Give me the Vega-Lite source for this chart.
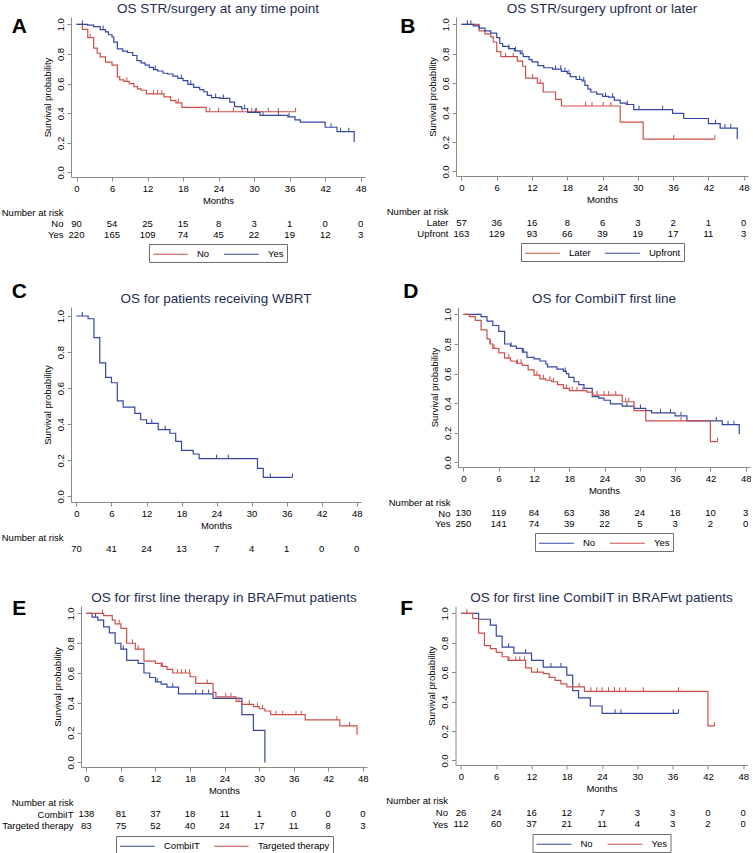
{
"$schema": "https://vega.github.io/schema/vega-lite/v6.json",
"background": "white",
"padding": {"left": 1, "top": 1, "right": 0, "bottom": 0},
"spacing": 35,
"columns": 1,
"align": "none",
"resolve": {"scale": {"color": "independent"}, "legend": {"color": "independent"}},
"datasets": {
"kmA": [
{"t":0,"s":1,"g":"No"},{"t":1,"s":0.966,"g":"No"},{"t":1.9,"s":0.91,"g":"No"},{"t":2.9,"s":0.84,"g":"No"},{"t":3.5,"s":0.805,"g":"No"},{"t":4,"s":0.78,"g":"No"},{"t":4.9,"s":0.745,"g":"No"},{"t":6,"s":0.725,"g":"No"},{"t":6.9,"s":0.645,"g":"No"},{"t":7.3,"s":0.625,"g":"No"},{"t":8,"s":0.615,"g":"No"},{"t":8.9,"s":0.6,"g":"No"},{"t":9.7,"s":0.58,"g":"No"},{"t":10.3,"s":0.565,"g":"No"},{"t":10.9,"s":0.555,"g":"No"},{"t":11.8,"s":0.53,"g":"No"},{"t":14.8,"s":0.51,"g":"No"},{"t":15.9,"s":0.485,"g":"No"},{"t":16.8,"s":0.47,"g":"No"},{"t":17.8,"s":0.44,"g":"No"},{"t":21.9,"s":0.41,"g":"No"},{"t":37,"s":0.41,"g":"No"},
{"t":0,"s":1,"g":"Yes"},{"t":1.9,"s":0.995,"g":"Yes"},{"t":2.9,"s":0.985,"g":"Yes"},{"t":4,"s":0.965,"g":"Yes"},{"t":4.9,"s":0.95,"g":"Yes"},{"t":5.4,"s":0.93,"g":"Yes"},{"t":6,"s":0.915,"g":"Yes"},{"t":6.3,"s":0.88,"g":"Yes"},{"t":6.9,"s":0.835,"g":"Yes"},{"t":7.8,"s":0.82,"g":"Yes"},{"t":8.6,"s":0.81,"g":"Yes"},{"t":9.5,"s":0.79,"g":"Yes"},{"t":10.2,"s":0.755,"g":"Yes"},{"t":10.9,"s":0.74,"g":"Yes"},{"t":11.6,"s":0.725,"g":"Yes"},{"t":12.3,"s":0.71,"g":"Yes"},{"t":13,"s":0.695,"g":"Yes"},{"t":13.7,"s":0.685,"g":"Yes"},{"t":14.6,"s":0.67,"g":"Yes"},{"t":15.4,"s":0.665,"g":"Yes"},{"t":16.3,"s":0.65,"g":"Yes"},{"t":17.1,"s":0.635,"g":"Yes"},{"t":18,"s":0.62,"g":"Yes"},{"t":18.8,"s":0.595,"g":"Yes"},{"t":19.8,"s":0.575,"g":"Yes"},{"t":20.8,"s":0.56,"g":"Yes"},{"t":21.5,"s":0.545,"g":"Yes"},{"t":22.1,"s":0.52,"g":"Yes"},{"t":22.8,"s":0.505,"g":"Yes"},{"t":24.2,"s":0.5,"g":"Yes"},{"t":25.9,"s":0.475,"g":"Yes"},{"t":26.7,"s":0.445,"g":"Yes"},{"t":27.9,"s":0.43,"g":"Yes"},{"t":28.9,"s":0.405,"g":"Yes"},{"t":31,"s":0.385,"g":"Yes"},{"t":35.7,"s":0.375,"g":"Yes"},{"t":36.9,"s":0.355,"g":"Yes"},{"t":37.8,"s":0.34,"g":"Yes"},{"t":42,"s":0.305,"g":"Yes"},{"t":44,"s":0.275,"g":"Yes"},{"t":46.9,"s":0.205,"g":"Yes"}
],
"cnA": [
{"t":2.3,"s":0.91,"g":"No"},{"t":8.5,"s":0.615,"g":"No"},{"t":13,"s":0.53,"g":"No"},{"t":13.7,"s":0.53,"g":"No"},{"t":14.4,"s":0.53,"g":"No"},{"t":17.2,"s":0.47,"g":"No"},{"t":22.5,"s":0.41,"g":"No"},{"t":24,"s":0.41,"g":"No"},{"t":26.5,"s":0.41,"g":"No"},{"t":28,"s":0.41,"g":"No"},{"t":29.6,"s":0.41,"g":"No"},{"t":30.4,"s":0.41,"g":"No"},{"t":32.4,"s":0.41,"g":"No"},{"t":34.1,"s":0.41,"g":"No"},{"t":37,"s":0.41,"g":"No"},
{"t":1,"s":1,"g":"Yes"},{"t":4.5,"s":0.965,"g":"Yes"},{"t":13.3,"s":0.695,"g":"Yes"},{"t":17.7,"s":0.635,"g":"Yes"},{"t":19.3,"s":0.595,"g":"Yes"},{"t":23.5,"s":0.505,"g":"Yes"},{"t":24.8,"s":0.5,"g":"Yes"},{"t":28.4,"s":0.43,"g":"Yes"},{"t":30.2,"s":0.405,"g":"Yes"},{"t":31.5,"s":0.385,"g":"Yes"},{"t":34.1,"s":0.385,"g":"Yes"},{"t":35.9,"s":0.375,"g":"Yes"},{"t":43,"s":0.305,"g":"Yes"},{"t":44.6,"s":0.275,"g":"Yes"},{"t":46,"s":0.275,"g":"Yes"}
],
"rkA": [
{"t":0,"n":90,"g":"No"},{"t":6,"n":54,"g":"No"},{"t":12,"n":25,"g":"No"},{"t":18,"n":15,"g":"No"},{"t":24,"n":8,"g":"No"},{"t":30,"n":3,"g":"No"},{"t":36,"n":1,"g":"No"},{"t":42,"n":0,"g":"No"},{"t":48,"n":0,"g":"No"},
{"t":0,"n":220,"g":"Yes"},{"t":6,"n":165,"g":"Yes"},{"t":12,"n":109,"g":"Yes"},{"t":18,"n":74,"g":"Yes"},{"t":24,"n":45,"g":"Yes"},{"t":30,"n":22,"g":"Yes"},{"t":36,"n":19,"g":"Yes"},{"t":42,"n":12,"g":"Yes"},{"t":48,"n":3,"g":"Yes"}
],
"kmB": [
{"t":0,"s":1,"g":"Later"},{"t":3,"s":0.955,"g":"Later"},{"t":4,"s":0.935,"g":"Later"},{"t":5,"s":0.915,"g":"Later"},{"t":5.4,"s":0.88,"g":"Later"},{"t":6,"s":0.815,"g":"Later"},{"t":6.7,"s":0.78,"g":"Later"},{"t":9.5,"s":0.75,"g":"Later"},{"t":10.4,"s":0.715,"g":"Later"},{"t":10.9,"s":0.635,"g":"Later"},{"t":12.9,"s":0.6,"g":"Later"},{"t":13.9,"s":0.54,"g":"Later"},{"t":16,"s":0.49,"g":"Later"},{"t":17,"s":0.445,"g":"Later"},{"t":27,"s":0.335,"g":"Later"},{"t":30.9,"s":0.22,"g":"Later"},{"t":43.1,"s":0.22,"g":"Later"},
{"t":0,"s":1,"g":"Upfront"},{"t":2,"s":0.99,"g":"Upfront"},{"t":3,"s":0.975,"g":"Upfront"},{"t":4,"s":0.955,"g":"Upfront"},{"t":5,"s":0.94,"g":"Upfront"},{"t":6,"s":0.91,"g":"Upfront"},{"t":6.5,"s":0.87,"g":"Upfront"},{"t":7,"s":0.85,"g":"Upfront"},{"t":8,"s":0.835,"g":"Upfront"},{"t":9,"s":0.82,"g":"Upfront"},{"t":10,"s":0.8,"g":"Upfront"},{"t":10.5,"s":0.78,"g":"Upfront"},{"t":11.5,"s":0.76,"g":"Upfront"},{"t":12,"s":0.745,"g":"Upfront"},{"t":13,"s":0.72,"g":"Upfront"},{"t":14,"s":0.705,"g":"Upfront"},{"t":15.5,"s":0.695,"g":"Upfront"},{"t":17,"s":0.68,"g":"Upfront"},{"t":18,"s":0.665,"g":"Upfront"},{"t":18.5,"s":0.645,"g":"Upfront"},{"t":19.5,"s":0.625,"g":"Upfront"},{"t":20.5,"s":0.615,"g":"Upfront"},{"t":21,"s":0.585,"g":"Upfront"},{"t":21.5,"s":0.56,"g":"Upfront"},{"t":22,"s":0.54,"g":"Upfront"},{"t":23,"s":0.525,"g":"Upfront"},{"t":24,"s":0.51,"g":"Upfront"},{"t":25,"s":0.505,"g":"Upfront"},{"t":26,"s":0.485,"g":"Upfront"},{"t":27,"s":0.465,"g":"Upfront"},{"t":28,"s":0.455,"g":"Upfront"},{"t":29.3,"s":0.42,"g":"Upfront"},{"t":35.9,"s":0.395,"g":"Upfront"},{"t":37.8,"s":0.36,"g":"Upfront"},{"t":42,"s":0.325,"g":"Upfront"},{"t":44,"s":0.295,"g":"Upfront"},{"t":46.9,"s":0.22,"g":"Upfront"}
],
"cnB": [
{"t":7.5,"s":0.78,"g":"Later"},{"t":8.8,"s":0.78,"g":"Later"},{"t":12.1,"s":0.635,"g":"Later"},{"t":13.4,"s":0.6,"g":"Later"},{"t":21.1,"s":0.445,"g":"Later"},{"t":22.2,"s":0.445,"g":"Later"},{"t":24.1,"s":0.445,"g":"Later"},{"t":25.4,"s":0.445,"g":"Later"},{"t":36.1,"s":0.22,"g":"Later"},{"t":43.1,"s":0.22,"g":"Later"},
{"t":1,"s":1,"g":"Upfront"},{"t":1.6,"s":1,"g":"Upfront"},{"t":8.1,"s":0.835,"g":"Upfront"},{"t":9.2,"s":0.82,"g":"Upfront"},{"t":10.3,"s":0.8,"g":"Upfront"},{"t":16,"s":0.695,"g":"Upfront"},{"t":16.9,"s":0.695,"g":"Upfront"},{"t":17.6,"s":0.68,"g":"Upfront"},{"t":18.3,"s":0.665,"g":"Upfront"},{"t":20.1,"s":0.625,"g":"Upfront"},{"t":20.8,"s":0.615,"g":"Upfront"},{"t":24.5,"s":0.51,"g":"Upfront"},{"t":25.7,"s":0.505,"g":"Upfront"},{"t":28.2,"s":0.455,"g":"Upfront"},{"t":30.2,"s":0.42,"g":"Upfront"},{"t":34.2,"s":0.42,"g":"Upfront"},{"t":43.2,"s":0.325,"g":"Upfront"},{"t":44.8,"s":0.295,"g":"Upfront"},{"t":45.8,"s":0.295,"g":"Upfront"}
],
"rkB": [
{"t":0,"n":57,"g":"Later"},{"t":6,"n":36,"g":"Later"},{"t":12,"n":16,"g":"Later"},{"t":18,"n":8,"g":"Later"},{"t":24,"n":6,"g":"Later"},{"t":30,"n":3,"g":"Later"},{"t":36,"n":2,"g":"Later"},{"t":42,"n":1,"g":"Later"},{"t":48,"n":0,"g":"Later"},
{"t":0,"n":163,"g":"Upfront"},{"t":6,"n":129,"g":"Upfront"},{"t":12,"n":93,"g":"Upfront"},{"t":18,"n":66,"g":"Upfront"},{"t":24,"n":39,"g":"Upfront"},{"t":30,"n":19,"g":"Upfront"},{"t":36,"n":17,"g":"Upfront"},{"t":42,"n":11,"g":"Upfront"},{"t":48,"n":3,"g":"Upfront"}
],
"kmC": [
{"t":0,"s":1},{"t":2,"s":0.985},{"t":3,"s":0.88},{"t":4,"s":0.74},{"t":5,"s":0.66},{"t":6,"s":0.63},{"t":7,"s":0.53},{"t":8,"s":0.495},{"t":10,"s":0.46},{"t":11,"s":0.425},{"t":12,"s":0.405},{"t":14,"s":0.37},{"t":16,"s":0.35},{"t":17,"s":0.305},{"t":18,"s":0.255},{"t":20,"s":0.235},{"t":21,"s":0.21},{"t":31,"s":0.155},{"t":32,"s":0.105},{"t":37,"s":0.105}
],
"cnC": [
{"t":1,"s":1},{"t":12.9,"s":0.405},{"t":15.2,"s":0.37},{"t":24,"s":0.21},{"t":26,"s":0.21},{"t":33.2,"s":0.105},{"t":37,"s":0.105}
],
"rkC": [
{"t":0,"n":70,"g":"all"},{"t":6,"n":41,"g":"all"},{"t":12,"n":24,"g":"all"},{"t":18,"n":13,"g":"all"},{"t":24,"n":7,"g":"all"},{"t":30,"n":4,"g":"all"},{"t":36,"n":1,"g":"all"},{"t":42,"n":0,"g":"all"},{"t":48,"n":0,"g":"all"}
],
"kmD": [
{"t":0,"s":1,"g":"No"},{"t":3,"s":0.985,"g":"No"},{"t":4,"s":0.955,"g":"No"},{"t":5,"s":0.925,"g":"No"},{"t":6,"s":0.885,"g":"No"},{"t":7,"s":0.8,"g":"No"},{"t":8,"s":0.785,"g":"No"},{"t":9,"s":0.77,"g":"No"},{"t":10,"s":0.745,"g":"No"},{"t":10.8,"s":0.71,"g":"No"},{"t":12,"s":0.7,"g":"No"},{"t":13,"s":0.685,"g":"No"},{"t":14,"s":0.665,"g":"No"},{"t":14.3,"s":0.645,"g":"No"},{"t":15.9,"s":0.63,"g":"No"},{"t":17,"s":0.615,"g":"No"},{"t":17.5,"s":0.6,"g":"No"},{"t":17.9,"s":0.575,"g":"No"},{"t":18.8,"s":0.545,"g":"No"},{"t":19.6,"s":0.525,"g":"No"},{"t":20.5,"s":0.5,"g":"No"},{"t":21.9,"s":0.445,"g":"No"},{"t":23,"s":0.435,"g":"No"},{"t":23.9,"s":0.42,"g":"No"},{"t":25,"s":0.395,"g":"No"},{"t":27,"s":0.38,"g":"No"},{"t":29,"s":0.365,"g":"No"},{"t":31,"s":0.35,"g":"No"},{"t":32,"s":0.335,"g":"No"},{"t":36,"s":0.315,"g":"No"},{"t":38,"s":0.28,"g":"No"},{"t":44,"s":0.255,"g":"No"},{"t":46.9,"s":0.19,"g":"No"},
{"t":0,"s":1,"g":"Yes"},{"t":1,"s":0.985,"g":"Yes"},{"t":2,"s":0.96,"g":"Yes"},{"t":3,"s":0.895,"g":"Yes"},{"t":4,"s":0.835,"g":"Yes"},{"t":4.5,"s":0.8,"g":"Yes"},{"t":5,"s":0.77,"g":"Yes"},{"t":6,"s":0.74,"g":"Yes"},{"t":7,"s":0.705,"g":"Yes"},{"t":8,"s":0.685,"g":"Yes"},{"t":9,"s":0.67,"g":"Yes"},{"t":10,"s":0.655,"g":"Yes"},{"t":11,"s":0.625,"g":"Yes"},{"t":12,"s":0.59,"g":"Yes"},{"t":13,"s":0.565,"g":"Yes"},{"t":14,"s":0.555,"g":"Yes"},{"t":15,"s":0.545,"g":"Yes"},{"t":16,"s":0.525,"g":"Yes"},{"t":17,"s":0.5,"g":"Yes"},{"t":18,"s":0.485,"g":"Yes"},{"t":21,"s":0.475,"g":"Yes"},{"t":22,"s":0.455,"g":"Yes"},{"t":27,"s":0.41,"g":"Yes"},{"t":29,"s":0.35,"g":"Yes"},{"t":31,"s":0.28,"g":"Yes"},{"t":42,"s":0.14,"g":"Yes"},{"t":43.2,"s":0.14,"g":"Yes"}
],
"cnD": [
{"t":8.1,"s":0.785,"g":"No"},{"t":10.2,"s":0.745,"g":"No"},{"t":17.3,"s":0.615,"g":"No"},{"t":27.8,"s":0.38,"g":"No"},{"t":30.1,"s":0.365,"g":"No"},{"t":33.5,"s":0.335,"g":"No"},{"t":35.2,"s":0.335,"g":"No"},{"t":37,"s":0.315,"g":"No"},{"t":43,"s":0.28,"g":"No"},{"t":45,"s":0.255,"g":"No"},{"t":46,"s":0.255,"g":"No"},
{"t":4.6,"s":0.8,"g":"Yes"},{"t":5.2,"s":0.77,"g":"Yes"},{"t":7.7,"s":0.705,"g":"Yes"},{"t":9.2,"s":0.67,"g":"Yes"},{"t":9.8,"s":0.67,"g":"Yes"},{"t":12.5,"s":0.59,"g":"Yes"},{"t":13.6,"s":0.565,"g":"Yes"},{"t":14.7,"s":0.555,"g":"Yes"},{"t":15.3,"s":0.545,"g":"Yes"},{"t":17.5,"s":0.5,"g":"Yes"},{"t":18.5,"s":0.485,"g":"Yes"},{"t":19.3,"s":0.485,"g":"Yes"},{"t":20.3,"s":0.485,"g":"Yes"},{"t":22.7,"s":0.455,"g":"Yes"},{"t":23.9,"s":0.455,"g":"Yes"},{"t":24.7,"s":0.455,"g":"Yes"},{"t":25.9,"s":0.455,"g":"Yes"},{"t":27.6,"s":0.41,"g":"Yes"},{"t":28.1,"s":0.41,"g":"Yes"},{"t":37,"s":0.28,"g":"Yes"},{"t":43.2,"s":0.14,"g":"Yes"}
],
"rkD": [
{"t":0,"n":130,"g":"No"},{"t":6,"n":119,"g":"No"},{"t":12,"n":84,"g":"No"},{"t":18,"n":63,"g":"No"},{"t":24,"n":38,"g":"No"},{"t":30,"n":24,"g":"No"},{"t":36,"n":18,"g":"No"},{"t":42,"n":10,"g":"No"},{"t":48,"n":3,"g":"No"},
{"t":0,"n":250,"g":"Yes"},{"t":6,"n":141,"g":"Yes"},{"t":12,"n":74,"g":"Yes"},{"t":18,"n":39,"g":"Yes"},{"t":24,"n":22,"g":"Yes"},{"t":30,"n":5,"g":"Yes"},{"t":36,"n":3,"g":"Yes"},{"t":42,"n":2,"g":"Yes"},{"t":48,"n":0,"g":"Yes"}
],
"kmE": [
{"t":0,"s":1,"g":"CombiIT"},{"t":1,"s":0.975,"g":"CombiIT"},{"t":2,"s":0.955,"g":"CombiIT"},{"t":3,"s":0.91,"g":"CombiIT"},{"t":4,"s":0.87,"g":"CombiIT"},{"t":5,"s":0.8,"g":"CombiIT"},{"t":6,"s":0.76,"g":"CombiIT"},{"t":7,"s":0.685,"g":"CombiIT"},{"t":9,"s":0.665,"g":"CombiIT"},{"t":10,"s":0.6,"g":"CombiIT"},{"t":11,"s":0.57,"g":"CombiIT"},{"t":12,"s":0.54,"g":"CombiIT"},{"t":13,"s":0.525,"g":"CombiIT"},{"t":14,"s":0.505,"g":"CombiIT"},{"t":16,"s":0.46,"g":"CombiIT"},{"t":22,"s":0.43,"g":"CombiIT"},{"t":27,"s":0.32,"g":"CombiIT"},{"t":29,"s":0.215,"g":"CombiIT"},{"t":31,"s":0,"g":"CombiIT"},
{"t":0,"s":1,"g":"Targeted therapy"},{"t":3,"s":0.985,"g":"Targeted therapy"},{"t":4.5,"s":0.955,"g":"Targeted therapy"},{"t":5,"s":0.93,"g":"Targeted therapy"},{"t":6,"s":0.9,"g":"Targeted therapy"},{"t":7,"s":0.8,"g":"Targeted therapy"},{"t":8.5,"s":0.76,"g":"Targeted therapy"},{"t":10,"s":0.68,"g":"Targeted therapy"},{"t":12,"s":0.665,"g":"Targeted therapy"},{"t":13,"s":0.645,"g":"Targeted therapy"},{"t":14,"s":0.625,"g":"Targeted therapy"},{"t":15,"s":0.6,"g":"Targeted therapy"},{"t":18,"s":0.575,"g":"Targeted therapy"},{"t":19,"s":0.53,"g":"Targeted therapy"},{"t":22,"s":0.47,"g":"Targeted therapy"},{"t":22.5,"s":0.44,"g":"Targeted therapy"},{"t":26,"s":0.41,"g":"Targeted therapy"},{"t":27,"s":0.39,"g":"Targeted therapy"},{"t":29,"s":0.375,"g":"Targeted therapy"},{"t":30,"s":0.36,"g":"Targeted therapy"},{"t":31,"s":0.345,"g":"Targeted therapy"},{"t":32,"s":0.32,"g":"Targeted therapy"},{"t":38,"s":0.285,"g":"Targeted therapy"},{"t":44,"s":0.245,"g":"Targeted therapy"},{"t":47,"s":0.185,"g":"Targeted therapy"}
],
"cnE": [
{"t":1.6,"s":0.975,"g":"CombiIT"},{"t":6.4,"s":0.76,"g":"CombiIT"},{"t":12.3,"s":0.54,"g":"CombiIT"},{"t":15,"s":0.505,"g":"CombiIT"},{"t":19,"s":0.46,"g":"CombiIT"},{"t":20.2,"s":0.46,"g":"CombiIT"},{"t":21.2,"s":0.46,"g":"CombiIT"},
{"t":2.8,"s":1,"g":"Targeted therapy"},{"t":5.7,"s":0.93,"g":"Targeted therapy"},{"t":8,"s":0.8,"g":"Targeted therapy"},{"t":9,"s":0.76,"g":"Targeted therapy"},{"t":13.2,"s":0.645,"g":"Targeted therapy"},{"t":15.8,"s":0.6,"g":"Targeted therapy"},{"t":16.5,"s":0.6,"g":"Targeted therapy"},{"t":17.2,"s":0.6,"g":"Targeted therapy"},{"t":17.9,"s":0.6,"g":"Targeted therapy"},{"t":21,"s":0.53,"g":"Targeted therapy"},{"t":24.2,"s":0.44,"g":"Targeted therapy"},{"t":25.1,"s":0.44,"g":"Targeted therapy"},{"t":26.5,"s":0.41,"g":"Targeted therapy"},{"t":28.3,"s":0.39,"g":"Targeted therapy"},{"t":29.7,"s":0.375,"g":"Targeted therapy"},{"t":30.6,"s":0.36,"g":"Targeted therapy"},{"t":32.9,"s":0.32,"g":"Targeted therapy"},{"t":34.1,"s":0.32,"g":"Targeted therapy"},{"t":36.4,"s":0.32,"g":"Targeted therapy"},{"t":37.3,"s":0.32,"g":"Targeted therapy"},{"t":43.5,"s":0.285,"g":"Targeted therapy"},{"t":45.7,"s":0.245,"g":"Targeted therapy"}
],
"rkE": [
{"t":0,"n":138,"g":"CombiIT"},{"t":6,"n":81,"g":"CombiIT"},{"t":12,"n":37,"g":"CombiIT"},{"t":18,"n":18,"g":"CombiIT"},{"t":24,"n":11,"g":"CombiIT"},{"t":30,"n":1,"g":"CombiIT"},{"t":36,"n":0,"g":"CombiIT"},{"t":42,"n":0,"g":"CombiIT"},{"t":48,"n":0,"g":"CombiIT"},
{"t":0,"n":83,"g":"Targeted therapy"},{"t":6,"n":75,"g":"Targeted therapy"},{"t":12,"n":52,"g":"Targeted therapy"},{"t":18,"n":40,"g":"Targeted therapy"},{"t":24,"n":24,"g":"Targeted therapy"},{"t":30,"n":17,"g":"Targeted therapy"},{"t":36,"n":11,"g":"Targeted therapy"},{"t":42,"n":8,"g":"Targeted therapy"},{"t":48,"n":3,"g":"Targeted therapy"}
],
"kmF": [
{"t":0,"s":1,"g":"No"},{"t":3,"s":0.96,"g":"No"},{"t":5,"s":0.92,"g":"No"},{"t":6,"s":0.845,"g":"No"},{"t":7,"s":0.77,"g":"No"},{"t":9,"s":0.73,"g":"No"},{"t":12,"s":0.68,"g":"No"},{"t":14,"s":0.635,"g":"No"},{"t":18,"s":0.58,"g":"No"},{"t":19,"s":0.475,"g":"No"},{"t":20,"s":0.425,"g":"No"},{"t":22,"s":0.37,"g":"No"},{"t":24,"s":0.32,"g":"No"},{"t":37,"s":0.32,"g":"No"},
{"t":0,"s":1,"g":"Yes"},{"t":2,"s":0.965,"g":"Yes"},{"t":3,"s":0.865,"g":"Yes"},{"t":4,"s":0.78,"g":"Yes"},{"t":5,"s":0.76,"g":"Yes"},{"t":6,"s":0.735,"g":"Yes"},{"t":7,"s":0.705,"g":"Yes"},{"t":8,"s":0.68,"g":"Yes"},{"t":11,"s":0.63,"g":"Yes"},{"t":12,"s":0.6,"g":"Yes"},{"t":14,"s":0.59,"g":"Yes"},{"t":15,"s":0.565,"g":"Yes"},{"t":16,"s":0.545,"g":"Yes"},{"t":17,"s":0.52,"g":"Yes"},{"t":18,"s":0.5,"g":"Yes"},{"t":21,"s":0.47,"g":"Yes"},{"t":42,"s":0.235,"g":"Yes"},{"t":43.1,"s":0.235,"g":"Yes"}
],
"cnF": [
{"t":8.1,"s":0.77,"g":"No"},{"t":11,"s":0.73,"g":"No"},{"t":15.3,"s":0.635,"g":"No"},{"t":17,"s":0.635,"g":"No"},{"t":26.2,"s":0.32,"g":"No"},{"t":27.2,"s":0.32,"g":"No"},{"t":36.1,"s":0.32,"g":"No"},{"t":37,"s":0.32,"g":"No"},
{"t":1,"s":1,"g":"Yes"},{"t":8.2,"s":0.68,"g":"Yes"},{"t":9.3,"s":0.68,"g":"Yes"},{"t":10,"s":0.68,"g":"Yes"},{"t":10.8,"s":0.68,"g":"Yes"},{"t":13,"s":0.6,"g":"Yes"},{"t":20.1,"s":0.5,"g":"Yes"},{"t":22.1,"s":0.47,"g":"Yes"},{"t":23.1,"s":0.47,"g":"Yes"},{"t":24,"s":0.47,"g":"Yes"},{"t":25.1,"s":0.47,"g":"Yes"},{"t":26.1,"s":0.47,"g":"Yes"},{"t":27,"s":0.47,"g":"Yes"},{"t":28,"s":0.47,"g":"Yes"},{"t":31,"s":0.47,"g":"Yes"},{"t":37,"s":0.47,"g":"Yes"},{"t":43.1,"s":0.235,"g":"Yes"}
],
"rkF": [
{"t":0,"n":26,"g":"No"},{"t":6,"n":24,"g":"No"},{"t":12,"n":16,"g":"No"},{"t":18,"n":12,"g":"No"},{"t":24,"n":7,"g":"No"},{"t":30,"n":3,"g":"No"},{"t":36,"n":3,"g":"No"},{"t":42,"n":0,"g":"No"},{"t":48,"n":0,"g":"No"},
{"t":0,"n":112,"g":"Yes"},{"t":6,"n":60,"g":"Yes"},{"t":12,"n":37,"g":"Yes"},{"t":18,"n":21,"g":"Yes"},{"t":24,"n":11,"g":"Yes"},{"t":30,"n":4,"g":"Yes"},{"t":36,"n":3,"g":"Yes"},{"t":42,"n":2,"g":"Yes"},{"t":48,"n":0,"g":"Yes"}
],
"blank": [{"v": ""}]
},
"concat": [
{
"columns": 1,
"align": "none",
"spacing": 18,
"resolve": {"scale": {"color": "independent"}, "legend": {"color": "independent"}},
"concat": [
{
"spacing": 20,
"resolve": {"scale": {"color": "independent"}, "legend": {"color": "independent"}},
"hconcat": [
{
"title": {"text": "A", "anchor": "start", "frame": "bounds", "fontSize": 21, "fontWeight": "bold", "color": "#000", "offset": -35.5, "dx": 10.5},
"spacing": 2,
"resolve": {"scale": {"color": "independent"}, "legend": {"color": "independent"}},
"vconcat": [
{
"width": 294, "height": 160,
"title": {"text": "OS STR/surgery at any time point", "frame": "group"},
"layer": [
{"data": {"name": "kmA"}, "mark": {"type": "line", "interpolate": "step-after", "strokeWidth": 1.2},
"encoding": {
"x": {"field": "t", "type": "quantitative", "scale": {"domain": [-0.93, 48.73], "nice": false, "zero": false}, "axis": {"values": [0,6,12,18,24,30,36,42,48], "tickCount": 20, "title": "Months", "labelFlush": false, "labelOverlap": false}},
"y": {"field": "s", "type": "quantitative", "scale": {"domain": [-0.031, 1.05], "nice": false, "zero": false}, "axis": {"values": [0,0.2,0.4,0.6,0.8,1], "tickCount": 20, "format": ".1f", "labelAngle": 270, "title": "Survival probability", "labelOverlap": false}},
"color": {"field": "g", "type": "nominal", "scale": {"domain": ["No","Yes"], "range": ["#cc4f4a","#3547a3"]}, "legend": null}}},
{"data": {"name": "cnA"}, "mark": {"type": "tick", "orient": "vertical", "size": 4, "thickness": 1, "opacity": 1, "yOffset": -2},
"encoding": {
"x": {"field": "t", "type": "quantitative", "scale": {"domain": [-0.93, 48.73], "nice": false, "zero": false}},
"y": {"field": "s", "type": "quantitative", "scale": {"domain": [-0.031, 1.05], "nice": false, "zero": false}},
"color": {"field": "g", "type": "nominal", "legend": null}}}
]
},
{
"width": 294, "height": 33,
"layer": [
{"data": {"name": "rkA"}, "mark": {"type": "text", "fontSize": 9.5, "color": "#000"},
"encoding": {
"x": {"field": "t", "type": "quantitative", "scale": {"domain": [-0.93, 48.73], "nice": false, "zero": false}, "axis": null},
"y": {"field": "g", "type": "nominal", "scale": {"domain": ["Number at risk","No","Yes"]}, "axis": {"title": null, "domain": false, "ticks": false, "labelPadding": 8}},
"text": {"field": "n", "type": "quantitative"}}},
{"data": {"name": "rkA"}, "mark": {"type": "line", "opacity": 0},
"encoding": {
"x": {"field": "t", "type": "quantitative"},
"y": {"field": "g", "type": "nominal"},
"color": {"field": "g", "type": "nominal", "scale": {"domain": ["No","Yes"], "range": ["#cc4f4a","#3547a3"]},
"legend": {"orient": "bottom", "direction": "horizontal", "title": null, "symbolType": "M-1,0H4.8", "symbolSize": 144, "symbolStrokeWidth": 1.2, "labelOffset": 31, "columnPadding": 11, "padding": 3, "strokeColor": "#6e6e6e", "offset": 4, "encode": {"symbols": {"update": {"opacity": {"value": 1}, "strokeWidth": {"value": 1.2}}}}}}}}
]
}
]
},
{
"title": {"text": "B", "anchor": "start", "frame": "bounds", "fontSize": 21, "fontWeight": "bold", "color": "#000", "offset": -35.5, "dx": 14},
"spacing": 2,
"resolve": {"scale": {"color": "independent"}, "legend": {"color": "independent"}},
"vconcat": [
{
"width": 292, "height": 159,
"title": {"text": "OS STR/surgery upfront or later", "frame": "group"},
"layer": [
{"data": {"name": "kmB"}, "mark": {"type": "line", "interpolate": "step-after", "strokeWidth": 1.2},
"encoding": {
"x": {"field": "t", "type": "quantitative", "scale": {"domain": [-0.93, 48.73], "nice": false, "zero": false}, "axis": {"values": [0,6,12,18,24,30,36,42,48], "tickCount": 20, "title": "Months", "labelFlush": false, "labelOverlap": false}},
"y": {"field": "s", "type": "quantitative", "scale": {"domain": [-0.031, 1.05], "nice": false, "zero": false}, "axis": {"values": [0,0.2,0.4,0.6,0.8,1], "tickCount": 20, "format": ".1f", "labelAngle": 270, "title": "Survival probability", "labelOverlap": false}},
"color": {"field": "g", "type": "nominal", "scale": {"domain": ["Later","Upfront"], "range": ["#cc4f4a","#3547a3"]}, "legend": null}}},
{"data": {"name": "cnB"}, "mark": {"type": "tick", "orient": "vertical", "size": 4, "thickness": 1, "opacity": 1, "yOffset": -2},
"encoding": {
"x": {"field": "t", "type": "quantitative", "scale": {"domain": [-0.93, 48.73], "nice": false, "zero": false}},
"y": {"field": "s", "type": "quantitative", "scale": {"domain": [-0.031, 1.05], "nice": false, "zero": false}},
"color": {"field": "g", "type": "nominal", "legend": null}}}
]
},
{
"width": 292, "height": 33,
"layer": [
{"data": {"name": "rkB"}, "mark": {"type": "text", "fontSize": 9.5, "color": "#000"},
"encoding": {
"x": {"field": "t", "type": "quantitative", "scale": {"domain": [-0.93, 48.73], "nice": false, "zero": false}, "axis": null},
"y": {"field": "g", "type": "nominal", "scale": {"domain": ["Number at risk","Later","Upfront"]}, "axis": {"title": null, "domain": false, "ticks": false, "labelPadding": 8}},
"text": {"field": "n", "type": "quantitative"}}},
{"data": {"name": "rkB"}, "mark": {"type": "line", "opacity": 0},
"encoding": {
"x": {"field": "t", "type": "quantitative"},
"y": {"field": "g", "type": "nominal"},
"color": {"field": "g", "type": "nominal", "scale": {"domain": ["Later","Upfront"], "range": ["#cc4f4a","#3547a3"]},
"legend": {"orient": "bottom", "direction": "horizontal", "title": null, "symbolType": "M-1,0H4.8", "symbolSize": 144, "symbolStrokeWidth": 1.2, "labelOffset": 31, "columnPadding": 11, "padding": 3, "strokeColor": "#6e6e6e", "offset": 4, "encode": {"symbols": {"update": {"opacity": {"value": 1}, "strokeWidth": {"value": 1.2}}}}}}}}
]
}
]
}
]
},
{
"spacing": 25,
"resolve": {"scale": {"color": "independent"}, "legend": {"color": "independent"}},
"hconcat": [
{
"title": {"text": "C", "anchor": "start", "frame": "bounds", "fontSize": 21, "fontWeight": "bold", "color": "#000", "offset": -10.5, "dx": 10.5},
"spacing": 2,
"vconcat": [
{
"width": 290, "height": 195,
"title": {"text": "OS for patients receiving WBRT", "frame": "group"},
"layer": [
{"data": {"name": "kmC"}, "mark": {"type": "line", "interpolate": "step-after", "strokeWidth": 1.2, "color": "#3547a3"},
"encoding": {
"x": {"field": "t", "type": "quantitative", "scale": {"domain": [-0.93, 48.73], "nice": false, "zero": false}, "axis": {"values": [0,6,12,18,24,30,36,42,48], "tickCount": 20, "title": "Months", "labelFlush": false, "labelOverlap": false}},
"y": {"field": "s", "type": "quantitative", "scale": {"domain": [-0.031, 1.05], "nice": false, "zero": false}, "axis": {"values": [0,0.2,0.4,0.6,0.8,1], "tickCount": 20, "format": ".1f", "labelAngle": 270, "title": "Survival probability", "labelOverlap": false}}}},
{"data": {"name": "cnC"}, "mark": {"type": "tick", "orient": "vertical", "size": 4, "thickness": 1, "opacity": 1, "yOffset": -2, "color": "#3547a3"},
"encoding": {
"x": {"field": "t", "type": "quantitative", "scale": {"domain": [-0.93, 48.73], "nice": false, "zero": false}},
"y": {"field": "s", "type": "quantitative", "scale": {"domain": [-0.031, 1.05], "nice": false, "zero": false}}}}
]
},
{
"width": 290, "height": 23,
"data": {"name": "rkC"},
"mark": {"type": "text", "fontSize": 9.5, "color": "#000"},
"encoding": {
"x": {"field": "t", "type": "quantitative", "scale": {"domain": [-0.93, 48.73], "nice": false, "zero": false}, "axis": null},
"y": {"field": "g", "type": "nominal", "scale": {"domain": ["Number at risk","all"]}, "axis": {"title": null, "domain": false, "ticks": false, "labelPadding": 8, "labelExpr": "datum.value == 'all' ? '' : datum.value"}},
"text": {"field": "n", "type": "quantitative"}}
}
]
},
{
"title": {"text": "D", "anchor": "start", "frame": "bounds", "fontSize": 21, "fontWeight": "bold", "color": "#000", "offset": -10.5, "dx": 15},
"spacing": 2,
"resolve": {"scale": {"color": "independent"}, "legend": {"color": "independent"}},
"vconcat": [
{
"width": 292, "height": 160,
"title": {"text": "OS for CombiIT first line", "frame": "group"},
"layer": [
{"data": {"name": "kmD"}, "mark": {"type": "line", "interpolate": "step-after", "strokeWidth": 1.2},
"encoding": {
"x": {"field": "t", "type": "quantitative", "scale": {"domain": [-0.93, 48.73], "nice": false, "zero": false}, "axis": {"values": [0,6,12,18,24,30,36,42,48], "tickCount": 20, "title": "Months", "labelFlush": false, "labelOverlap": false}},
"y": {"field": "s", "type": "quantitative", "scale": {"domain": [-0.031, 1.05], "nice": false, "zero": false}, "axis": {"values": [0,0.2,0.4,0.6,0.8,1], "tickCount": 20, "format": ".1f", "labelAngle": 270, "title": "Survival probability", "labelOverlap": false}},
"color": {"field": "g", "type": "nominal", "scale": {"domain": ["No","Yes"], "range": ["#3547a3","#cc4f4a"]}, "legend": null}}},
{"data": {"name": "cnD"}, "mark": {"type": "tick", "orient": "vertical", "size": 4, "thickness": 1, "opacity": 1, "yOffset": -2},
"encoding": {
"x": {"field": "t", "type": "quantitative", "scale": {"domain": [-0.93, 48.73], "nice": false, "zero": false}},
"y": {"field": "s", "type": "quantitative", "scale": {"domain": [-0.031, 1.05], "nice": false, "zero": false}},
"color": {"field": "g", "type": "nominal", "legend": null}}}
]
},
{
"width": 292, "height": 32,
"layer": [
{"data": {"name": "rkD"}, "mark": {"type": "text", "fontSize": 9.5, "color": "#000"},
"encoding": {
"x": {"field": "t", "type": "quantitative", "scale": {"domain": [-0.93, 48.73], "nice": false, "zero": false}, "axis": null},
"y": {"field": "g", "type": "nominal", "scale": {"domain": ["Number at risk","No","Yes"]}, "axis": {"title": null, "domain": false, "ticks": false, "labelPadding": 8}},
"text": {"field": "n", "type": "quantitative"}}},
{"data": {"name": "rkD"}, "mark": {"type": "line", "opacity": 0},
"encoding": {
"x": {"field": "t", "type": "quantitative"},
"y": {"field": "g", "type": "nominal"},
"color": {"field": "g", "type": "nominal", "scale": {"domain": ["No","Yes"], "range": ["#3547a3","#cc4f4a"]},
"legend": {"orient": "bottom", "direction": "horizontal", "title": null, "symbolType": "M-1,0H4.8", "symbolSize": 144, "symbolStrokeWidth": 1.2, "labelOffset": 31, "columnPadding": 11, "padding": 3, "strokeColor": "#6e6e6e", "offset": 4, "encode": {"symbols": {"update": {"opacity": {"value": 1}, "strokeWidth": {"value": 1.2}}}}}}}}
]
}
]
}
]
}
]
},
{
"columns": 2,
"align": "none",
"spacing": -71,
"resolve": {"scale": {"color": "independent"}, "legend": {"color": "independent"}},
"concat": [
{"width": 1, "height": 1, "data": {"name": "blank"}, "mark": {"type": "text"}, "encoding": {"text": {"field": "v", "type": "nominal"}}},
{
"spacing": 16.5,
"resolve": {"scale": {"color": "independent"}, "legend": {"color": "independent"}},
"hconcat": [
{
"title": {"text": "E", "anchor": "start", "frame": "bounds", "fontSize": 21, "fontWeight": "bold", "color": "#000", "offset": -28, "dx": 10.5},
"spacing": 2,
"resolve": {"scale": {"color": "independent"}, "legend": {"color": "independent"}},
"vconcat": [
{
"width": 286, "height": 161,
"title": {"text": "OS for first line therapy in BRAFmut patients", "frame": "group"},
"layer": [
{"data": {"name": "kmE"}, "mark": {"type": "line", "interpolate": "step-after", "strokeWidth": 1.2},
"encoding": {
"x": {"field": "t", "type": "quantitative", "scale": {"domain": [-0.93, 48.73], "nice": false, "zero": false}, "axis": {"values": [0,6,12,18,24,30,36,42,48], "tickCount": 20, "title": "Months", "labelFlush": false, "labelOverlap": false}},
"y": {"field": "s", "type": "quantitative", "scale": {"domain": [-0.031, 1.05], "nice": false, "zero": false}, "axis": {"values": [0,0.2,0.4,0.6,0.8,1], "tickCount": 20, "format": ".1f", "labelAngle": 270, "title": "Survival probability", "labelOverlap": false}},
"color": {"field": "g", "type": "nominal", "scale": {"domain": ["CombiIT","Targeted therapy"], "range": ["#3547a3","#cc4f4a"]}, "legend": null}}},
{"data": {"name": "cnE"}, "mark": {"type": "tick", "orient": "vertical", "size": 4, "thickness": 1, "opacity": 1, "yOffset": -2},
"encoding": {
"x": {"field": "t", "type": "quantitative", "scale": {"domain": [-0.93, 48.73], "nice": false, "zero": false}},
"y": {"field": "s", "type": "quantitative", "scale": {"domain": [-0.031, 1.05], "nice": false, "zero": false}},
"color": {"field": "g", "type": "nominal", "legend": null}}}
]
},
{
"width": 286, "height": 34.5,
"layer": [
{"data": {"name": "rkE"}, "mark": {"type": "text", "fontSize": 9.5, "color": "#000"},
"encoding": {
"x": {"field": "t", "type": "quantitative", "scale": {"domain": [-0.93, 48.73], "nice": false, "zero": false}, "axis": null},
"y": {"field": "g", "type": "nominal", "scale": {"domain": ["Number at risk","CombiIT","Targeted therapy"]}, "axis": {"title": null, "domain": false, "ticks": false, "labelPadding": 8}},
"text": {"field": "n", "type": "quantitative"}}},
{"data": {"name": "rkE"}, "mark": {"type": "line", "opacity": 0},
"encoding": {
"x": {"field": "t", "type": "quantitative"},
"y": {"field": "g", "type": "nominal"},
"color": {"field": "g", "type": "nominal", "scale": {"domain": ["CombiIT","Targeted therapy"], "range": ["#3547a3","#cc4f4a"]},
"legend": {"orient": "bottom", "direction": "horizontal", "title": null, "symbolType": "M-1,0H4.8", "symbolSize": 144, "symbolStrokeWidth": 1.2, "labelOffset": 31, "columnPadding": 11, "padding": 3, "strokeColor": "#6e6e6e", "offset": 4, "encode": {"symbols": {"update": {"opacity": {"value": 1}, "strokeWidth": {"value": 1.2}}}}}}}}
]
}
]
},
{
"title": {"text": "F", "anchor": "start", "frame": "bounds", "fontSize": 21, "fontWeight": "bold", "color": "#000", "offset": -28, "dx": 14.5},
"spacing": 2,
"resolve": {"scale": {"color": "independent"}, "legend": {"color": "independent"}},
"vconcat": [
{
"width": 292, "height": 159,
"title": {"text": "OS for first line CombiIT in BRAFwt patients", "frame": "group"},
"layer": [
{"data": {"name": "kmF"}, "mark": {"type": "line", "interpolate": "step-after", "strokeWidth": 1.2},
"encoding": {
"x": {"field": "t", "type": "quantitative", "scale": {"domain": [-0.93, 48.73], "nice": false, "zero": false}, "axis": {"values": [0,6,12,18,24,30,36,42,48], "tickCount": 20, "title": "Months", "labelFlush": false, "labelOverlap": false}},
"y": {"field": "s", "type": "quantitative", "scale": {"domain": [-0.031, 1.05], "nice": false, "zero": false}, "axis": {"values": [0,0.2,0.4,0.6,0.8,1], "tickCount": 20, "format": ".1f", "labelAngle": 270, "title": "Survival probability", "labelOverlap": false}},
"color": {"field": "g", "type": "nominal", "scale": {"domain": ["No","Yes"], "range": ["#3547a3","#cc4f4a"]}, "legend": null}}},
{"data": {"name": "cnF"}, "mark": {"type": "tick", "orient": "vertical", "size": 4, "thickness": 1, "opacity": 1, "yOffset": -2},
"encoding": {
"x": {"field": "t", "type": "quantitative", "scale": {"domain": [-0.93, 48.73], "nice": false, "zero": false}},
"y": {"field": "s", "type": "quantitative", "scale": {"domain": [-0.031, 1.05], "nice": false, "zero": false}},
"color": {"field": "g", "type": "nominal", "legend": null}}}
]
},
{
"width": 292, "height": 35,
"layer": [
{"data": {"name": "rkF"}, "mark": {"type": "text", "fontSize": 9.5, "color": "#000"},
"encoding": {
"x": {"field": "t", "type": "quantitative", "scale": {"domain": [-0.93, 48.73], "nice": false, "zero": false}, "axis": null},
"y": {"field": "g", "type": "nominal", "scale": {"domain": ["Number at risk","No","Yes"]}, "axis": {"title": null, "domain": false, "ticks": false, "labelPadding": 8}},
"text": {"field": "n", "type": "quantitative"}}},
{"data": {"name": "rkF"}, "mark": {"type": "line", "opacity": 0},
"encoding": {
"x": {"field": "t", "type": "quantitative"},
"y": {"field": "g", "type": "nominal"},
"color": {"field": "g", "type": "nominal", "scale": {"domain": ["No","Yes"], "range": ["#3547a3","#cc4f4a"]},
"legend": {"orient": "bottom", "direction": "horizontal", "title": null, "symbolType": "M-1,0H4.8", "symbolSize": 144, "symbolStrokeWidth": 1.2, "labelOffset": 31, "columnPadding": 11, "padding": 3, "strokeColor": "#6e6e6e", "offset": 4, "encode": {"symbols": {"update": {"opacity": {"value": 1}, "strokeWidth": {"value": 1.2}}}}}}}}
]
}
]
}
]
}
]
}
],
"config": {
"font": "Liberation Sans",
"view": {"stroke": null},
"title": {"font": "Liberation Sans", "fontSize": 13.5, "fontWeight": "normal", "color": "#1e2d4f", "offset": 2},
"axis": {"labelFont": "Liberation Sans", "labelFontSize": 9.5, "labelColor": "#000", "titleFont": "Liberation Sans", "titleFontSize": 9.5, "titleFontWeight": "normal", "titleColor": "#000", "domainColor": "#8a8a8a", "tickColor": "#8a8a8a", "tickSize": 4, "grid": false, "labelPadding": 2, "titlePadding": 3, "labelOverlap": false},
"legend": {"labelFont": "Liberation Sans", "labelFontSize": 9.5, "labelColor": "#000", "layout": {"bottom": {"anchor": "middle"}}},
"text": {"font": "Liberation Sans"}
}
}
